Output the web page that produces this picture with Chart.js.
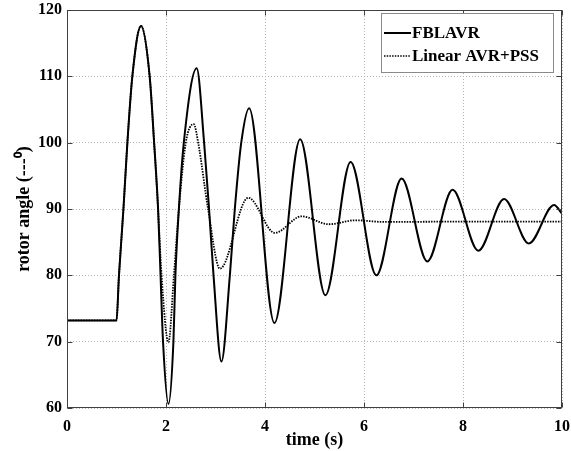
<!DOCTYPE html>
<html>
<head>
<meta charset="utf-8">
<script src="https://cdn.jsdelivr.net/npm/chart.js@4.4.1/dist/chart.umd.min.js"></script>
<style>
  html, body { margin: 0; padding: 0; background: #fff; }
  canvas { display: block; }
</style>
</head>
<body>
<canvas id="angle-chart" width="571" height="451"></canvas>
<script>
// rotor angle response (time in s, angle in deg)
const fblTime = [0, 1.0, 1.05, 1.14, 1.22, 1.32, 1.495, 1.67, 1.76, 1.84, 1.89, 1.94, 2.05, 2.15, 2.19, 2.26, 2.36, 2.62,
    2.77, 2.87, 2.96, 3.12, 3.29, 3.39, 3.52, 3.68, 4.19, 4.71, 5.22, 5.73, 6.25, 6.76, 7.28, 7.79,
    8.31, 8.83, 9.33, 9.84, 10];
const fblAngle = [73.2, 73.2, 80, 90, 100, 110, 117.6, 110, 100, 90, 80, 70, 60.6, 70, 80, 90, 100, 111.2,
    100, 90, 80, 67.0, 80, 90, 100, 105.2, 72.8, 100.5, 77.0, 97.1, 80.0, 94.6, 82.1, 92.9,
    83.7, 91.5, 84.8, 90.6, 89.3];

const linTime = [0, 1.0, 1.05, 1.14, 1.22, 1.32, 1.495, 1.67, 1.76, 1.84, 1.91, 2.05, 2.16, 2.26, 2.40, 2.56,
    2.65, 2.85, 3.09, 3.66, 4.20, 4.74, 5.29, 5.83, 6.4, 8.0, 10];
const linAngle = [73.2, 73.2, 80, 90, 100, 110, 117.6, 110, 100, 90, 80, 69.9, 80, 90, 100, 102.8,
    100, 90, 81.0, 91.7, 86.4, 88.9, 87.7, 88.3, 88.05, 88.1, 88.1];

const seriesNames = ['FBLAVR', 'Linear AVR+PSS'];
const xTicks = [0, 2, 4, 6, 8, 10];
const yTicks = [60, 70, 80, 90, 100, 110, 120];

const serif = "'Liberation Serif', 'Times New Roman', serif";

function toPoints(xs, ys) {
    return xs.map((x, i) => ({ x: x, y: ys[i] }));
}

// box around the plot, inward tick marks and the boxed legend
const framePlugin = {
    id: 'frame',
    afterDraw(chart) {
        const { ctx, chartArea: a, scales } = chart;
        const L = a.left + 0.5, R = a.right - 0.5, T = a.top + 0.5, B = a.bottom - 0.5;
        ctx.save();
        ctx.strokeStyle = '#404040';
        ctx.lineWidth = 1;
        ctx.setLineDash([]);
        ctx.strokeRect(L, T, R - L, B - T);

        ctx.beginPath();
        xTicks.forEach(v => {
            const px = Math.round(scales.x.getPixelForValue(v)) + 0.5;
            ctx.moveTo(px, B); ctx.lineTo(px, B - 5);
            ctx.moveTo(px, T); ctx.lineTo(px, T + 5);
        });
        yTicks.forEach(v => {
            const py = Math.round(scales.y.getPixelForValue(v)) + 0.5;
            ctx.moveTo(L, py); ctx.lineTo(L + 5, py);
            ctx.moveTo(R, py); ctx.lineTo(R - 5, py);
        });
        ctx.stroke();

        // legend
        const bx = a.right - 181, by = a.top + 3, bw = 172, bh = 59;
        ctx.fillStyle = '#fff';
        ctx.fillRect(bx, by, bw, bh);
        ctx.strokeStyle = '#8a8a8a';
        ctx.strokeRect(bx + 0.5, by + 0.5, bw, bh);
        ctx.font = 'bold 17px ' + serif;
        ctx.textBaseline = 'middle';
        ctx.fillStyle = '#000';
        chart.data.datasets.forEach((ds, i) => {
            const yy = by + 20 + i * 23;
            ctx.strokeStyle = ds.borderColor;
            ctx.lineWidth = i === 0 ? 2 : 1.5;
            ctx.setLineDash(ds.borderDash || []);
            ctx.beginPath();
            ctx.moveTo(bx + 3, yy);
            ctx.lineTo(bx + 30, yy);
            ctx.stroke();
            ctx.setLineDash([]);
            ctx.fillText(ds.label, bx + 31, yy + 1);
        });
        ctx.restore();
    }
};

const ctx = document.getElementById('angle-chart');

new Chart(ctx, {
    type: 'line',
    data: {
        datasets: [{
            label: seriesNames[0],
            data: toPoints(fblTime, fblAngle),
            borderColor: '#000',
            borderWidth: 2,
            pointRadius: 0,
            cubicInterpolationMode: 'monotone'
        }, {
            label: seriesNames[1],
            data: toPoints(linTime, linAngle),
            borderColor: '#000',
            borderWidth: 1.8,
            borderDash: [1.5, 1.2],
            pointRadius: 0,
            cubicInterpolationMode: 'monotone'
        }]
    },
    options: {
        responsive: false,
        animation: false,
        layout: {
            padding: { top: 10, right: 9, left: 0, bottom: 0 }
        },
        plugins: {
            legend: { display: false },
            tooltip: { enabled: false }
        },
        scales: {
            x: {
                type: 'linear',
                min: 0,
                max: 10,
                afterBuildTicks: s => { s.ticks = xTicks.map(v => ({ value: v })); },
                afterFit: s => { s.height = 43; s.paddingLeft = 0; s.paddingRight = 0; },
                grid: { color: '#b4b4b4', lineWidth: 1, drawTicks: false },
                border: { display: false, dash: [1, 2] },
                ticks: {
                    color: '#000',
                    padding: 9,
                    maxRotation: 0,
                    font: { family: serif, size: 16, weight: 'bold' }
                },
                title: {
                    display: true,
                    text: 'time (s)',
                    color: '#000',
                    padding: { top: 0, bottom: 0 },
                    font: { family: serif, size: 18, weight: 'bold' }
                }
            },
            y: {
                type: 'linear',
                min: 60,
                max: 120,
                afterBuildTicks: s => { s.ticks = yTicks.map(v => ({ value: v })); },
                afterFit: s => { s.width = 67; s.paddingTop = 0; s.paddingBottom = 0; },
                grid: { color: '#b4b4b4', lineWidth: 1, drawTicks: false },
                border: { display: false, dash: [1, 2] },
                ticks: {
                    color: '#000',
                    padding: 5,
                    font: { family: serif, size: 16, weight: 'bold' }
                },
                title: {
                    display: true,
                    text: 'rotor angle (---\u2070)',
                    color: '#000',
                    padding: { top: 14, bottom: 0 },
                    font: { family: serif, size: 18, weight: 'bold' }
                }
            }
        }
    },
    plugins: [framePlugin]
});
</script>
</body>
</html>
